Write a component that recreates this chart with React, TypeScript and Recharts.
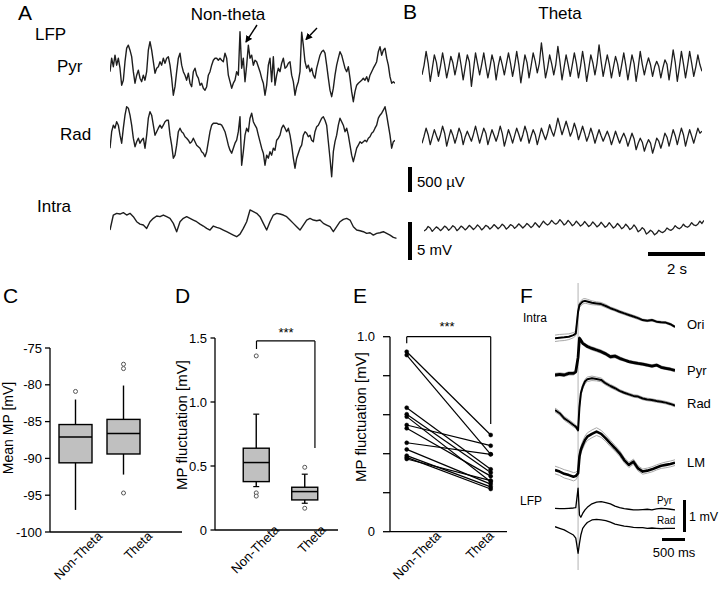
import React from 'react';
import { LineChart, Line, XAxis, YAxis, ComposedChart, Bar, ReferenceLine } from 'recharts';

const FONT = '"Liberation Sans", Arial, Helvetica, sans-serif';

// ---------- A: non-theta (LFP in µV, intracellular in mV, uniform sampling) ----------
const pyrNonTheta = [
  0, 270, 100, 330, 130, 270, 70, -270, -170, 200,
  470, 530, 430, 300, 0, -230, -70, 30, -130, -200,
  -70, -170, 0, 430, 600, 430, 200, -30, 70, 100,
  200, 130, 270, 170, 270, 300, 130, -130, -470, -300,
  0, 270, 370, 130, 0, -70, -170, -30, -230, -300,
  0, 70, -70, -130, -270, -230, -330, -370, -300, -70,
  0, 130, 230, 270, 270, 230, 270, 230, 200, 370,
  270, -70, -200, -330, -230, -170, 0, -70, 800, 70,
  270, -200, 130, 530, 270, 330, 130,
  230, 200, 100, 0, -130, -230, -470, -270, 130, 270,
  -200, 300, -270, -70, 70, 0, 170, 270, 70, 100,
  170, 200, -70, -200, -470, -300, -200, 0, 790, 530,
  200, 70, 130, 0, 70, -70, -130, 70, 200, 330,
  400, 430, 370, 130, -130, -370, -500, -330, -70, 130,
  270, 400, 330, 200, 70, 0, 100, -130, -400, -600,
  -400, -270, -230, -200, -170, -130, -170, -100, -200, -70,
  0, 70, 130, 200, 400, 500, 330, 430, 470, 270,
  130, -100, -230, -200, -230,
];

const radNonTheta = [
  -330, 0, 130, 70, 200, 130, -70, -230, 70, 330,
  500, 470, 330, 130, -130, -300, -200, -130, -230, -170,
  -130, -330, -70, 270, 400, 330, 130, -70, 0, 70,
  130, 70, 130, 200, 230, 230, -70, -270, -530, -470,
  -270, 0, 70, 0, -30, -100, -130, -170, -230, -200,
  -130, -200, -270, -300, -330, -400, -430, -500, -400, -200,
  0, 130, 170, 170, 170, 150, 150, 130, 70, 0,
  -130, -270, -370, -430, -330, -230, -170, 0, 300, -670,
  -400, -70, 70, 0, 270, 370, 200,
  130, 70, -70, -200, -330, -430, -670, -470, -530, -400,
  -470, -330, -370, -170, -130, -70, 70, 130, 70, 0,
  70, -70, -270, -530, -730, -530, -430, -330, -270, -70,
  0, -30, -100, -70, -170, -200, 0, 100, 130, 200,
  270, 300, 230, 130, -200, -530, -900, -400, -200, -70,
  130, 270, 200, 130, 0, 70, -70, -270, -470, -600,
  -470, -330, -270, -200, -230, -200, -170, -200, -130, -100,
  -30, 0, 70, 130, 270, 330, 370, 430, 500, 330,
  130, -70, -330, -200, -170,
];

const intraNonTheta = [
  -1.1, 0.88, 1.1, 1.01, 1.19, 0.88, 1.1, 0.66, 0, -0.31,
  -0.44, -0.88, 0, 0.44, 0.75, 0.66, 0.88, 0.66, 0.44, -0.22,
  -1.32, 0, 0.44, 0.66, 0.44, 0.22, 0, -0.31, -0.57, -0.88,
  -1.1, -0.57, -0.75, -0.88, -1.1, -1.32, -1.54, -1.76, -1.98, -1.63,
  -0.88, 0, 1.54, 1.32, 1.1, 0.66, -0.22, -1.1, 0, 0.88,
  1.1, 1.01, 0.88, 0.66, 0.22, -0.22, -0.66, -1.1, -0.44, 0.22,
  0.44, 0.22, 0.13, 0.22, -0.22, -0.44, -0.66, -1.32, -0.66, 0,
  0.31, 0.44, 0.22, -0.66, -1.1, -1.19, -1.32, -1.54, -1.45, -1.76,
  -1.54, -1.45, -1.32, -1.54, -1.76, -2.07, -2.2,
];

// ---------- B: theta ----------
const pyrTheta = [
  -170, 20, 300, 60, -300, -40, 230, 80, -200, 10, 270, 40, -230, -30, 200, 70,
  -170, 30, 270, 20, -270, -10, 230, 90, -400, -60, 270, 50, -170, 40, 270, 10,
  -230, -20, 230, 70, -270, 0, 200, 30, -170, 50, 270, 60, -200, 20, 300, 40,
  -330, -50, 230, 80, -230, 10, 270, 100, -130, 60, 470, 120, -230, -30, 230, 50,
  -170, 40, 400, 90, -270, -20, 230, 30, -200, 30, 270, 60, -230, 0, 300, 40,
  -300, -40, 230, 70, -170, 60, 430, 100, -200, 20, 230, 40, -230, -10, 200, 50,
  -200, 30, 270, 20, -270, -20, 230, 60, -300, -30, 300, 40, -170, 20, 170, 30,
  -200, -10, 100, 0, -230, -30, 130, 40, -270, 10, 330, 80, -300, -20, 300, 50,
  -230, 20, 300, 60, -200, -10, 230, 30, -100,
];

const radTheta = [
  -170, -30, 130, 0, -200, -50, 100, -20, -130, 0, 170, 30, -230, -60, 100, -10,
  -170, -30, 130, 20, -200, -40, 70, -30, -130, 10, 170, 0, -170, -20, 130, 30,
  -200, -50, 100, -10, -130, 0, 170, 20, -230, -70, 100, -20, -170, -20, 130, 10,
  -130, 0, 170, 40, -170, -30, 100, 0, -200, -40, 130, 10, -100, 30, 200, 70,
  -30, 130, 330, 170, 0, 130, 270, 130, -30, 70, 230, 100, -100, 30, 170, 30,
  -130, -20, 130, 0, -170, -30, 100, -20, -130, -30, 70, -40, -200, -70, 70, -50,
  -170, -60, 30, -70, -230, -100, 30, -80, -300, -170, -70, -150, -330, -200, -100, -170,
  -370, -230, -70, -130, -270, -130, 30, -50, -230, -70, 100, -20, -200, -30, 130, 0,
  -230, -60, 100, -30, -170, -20, 130, 30, 70,
];

const intraTheta = [
  -0.4, -0.2, 0.2, 0, -0.45, -0.15, 0.15, -0.05, -0.35, -0.1, 0.25, 0.05, -0.3, -0.05, 0.3, 0.1,
  -0.35, -0.1, 0.25, 0.05, -0.25, 0, 0.35, 0.1, -0.2, 0.05, 0.4, 0.15, -0.25, 0, 0.35, 0.2,
  -0.15, 0.1, 0.45, 0.2, -0.1, 0.15, 0.5, 0.25, -0.15, 0.1, 0.45, 0.3, -0.05, 0.2, 0.55, 0.3,
  0, 0.25, 0.6, 0.35, 0.05, 0.3, 0.7, 0.4, 0.1, 0.5, 0.9, 0.6, 0.4, 0.6, 1.0, 0.7,
  0.5, 0.7, 1.1, 0.8, 0.4, 0.6, 1.0, 0.7, 0.3, 0.5, 0.9, 0.6, 0.25, 0.45, 0.85, 0.55,
  0.2, 0.4, 0.8, 0.5, 0.15, 0.35, 0.75, 0.45, 0.1, 0.3, 0.7, 0.35, 0, 0.2, 0.6, 0.3,
  -0.1, 0.1, 0.5, 0.2, -0.2, 0, 0.4, 0.05, -0.5, -0.3, 0.05, -0.2, -0.8, -0.6, -0.3, -0.5,
  -0.9, -0.7, -0.3, -0.5, -0.6, -0.4, 0, -0.2, -0.3, -0.1, 0.3, 0.05, -0.1, 0.1, 0.5, 0.2,
  0.1, 0.3, 0.7, 0.4, 0.3, 0.5, 0.9, 0.6, 1.0,
];

// ---------- C/D: box plot statistics ----------
const groups = ['Non-Theta', 'Theta'];

const mpQ1 = [-90.6, -89.4];
const mpMedian = [-87.1, -86.6];
const mpQ3 = [-85.4, -84.7];
const mpLow = [-97.0, -92.2];
const mpHigh = [-82.0, -80.1];
const mpOutliers = [[-80.9], [-77.2, -77.8, -94.7]];
const mpTicks = [-100, -95, -90, -85, -80, -75];

const flQ1 = [0.378, 0.235];
const flMedian = [0.527, 0.3];
const flQ3 = [0.639, 0.334];
const flLow = [0.339, 0.209];
const flHigh = [0.905, 0.436];
const flOutliers = [[1.36, 0.29, 0.265], [0.49, 0.17]];
const flTicks = [0, 0.5, 1.0, 1.5];

// ---------- E: paired values per cell ----------
const pairNonTheta = [0.923, 0.906, 0.636, 0.602, 0.59, 0.547, 0.53, 0.456, 0.422, 0.39, 0.381, 0.373];
const pairTheta = [0.496, 0.397, 0.32, 0.303, 0.256, 0.441, 0.285, 0.397, 0.244, 0.23, 0.219, 0.262];
const pairTicks = [0, 0.2, 0.4, 0.6, 0.8, 1.0];

// ---------- F: averages around the event (mV) ----------
const fTimes = [-0.5, -0.4, -0.3, -0.2, -0.1, -0.05, 0, 0.03, 0.06, 0.1, 0.15, 0.2, 0.3, 0.4, 0.5, 0.6, 0.7, 0.8, 0.9, 1.0, 1.1, 1.2, 1.3, 1.4, 1.5, 1.6, 1.7, 1.8, 1.9, 2.0, 2.1];
const oriAvg = [0, 0.02, 0.03, 0.05, 0.1, 0.15, 0.83, 1.04, 1.09, 1.15, 1.17, 1.15, 1.11, 1.09, 1.07, 1.01, 0.94, 0.89, 0.83, 0.78, 0.73, 0.68, 0.63, 0.57, 0.55, 0.57, 0.52, 0.5, 0.49, 0.44, 0.36];
const oriSem = [0.1, 0.1, 0.1, 0.09, 0.08, 0.07, 0.05, 0.07, 0.08, 0.08, 0.07, 0.07, 0.06, 0.05, 0.05, 0.05, 0.04, 0.04, 0.04, 0.04, 0.04, 0.04, 0.04, 0.03, 0.03, 0.03, 0.03, 0.03, 0.03, 0.03, 0.03];
const pyrAvg = [0, 0.02, 0, 0.05, 0.05, 0.1, 0.55, 1.15, 1.09, 0.99, 0.94, 0.89, 0.83, 0.78, 0.73, 0.66, 0.57, 0.59, 0.52, 0.47, 0.42, 0.39, 0.36, 0.34, 0.31, 0.28, 0.31, 0.24, 0.21, 0.18, 0.14];
const pyrSem = [0.05, 0.05, 0.05, 0.05, 0.05, 0.05, 0.05, 0.05, 0.05, 0.05, 0.05, 0.05, 0.05, 0.05, 0.05, 0.05, 0.05, 0.05, 0.05, 0.04, 0.04, 0.04, 0.04, 0.04, 0.04, 0.04, 0.04, 0.04, 0.04, 0.04, 0.04];
const radAvg = [0, -0.1, -0.26, -0.36, -0.47, -0.52, -0.63, 0.1, 0.52, 0.73, 0.89, 0.96, 0.99, 0.97, 0.94, 0.83, 0.75, 0.68, 0.6, 0.54, 0.49, 0.44, 0.42, 0.36, 0.33, 0.31, 0.28, 0.26, 0.23, 0.19, 0.14];
const radSem = [0.06, 0.06, 0.06, 0.06, 0.06, 0.05, 0.05, 0.06, 0.07, 0.07, 0.07, 0.07, 0.07, 0.06, 0.06, 0.05, 0.05, 0.05, 0.04, 0.04, 0.04, 0.04, 0.04, 0.04, 0.04, 0.04, 0.04, 0.04, 0.04, 0.04, 0.04];
const lmAvg = [0, -0.05, -0.12, -0.16, -0.21, -0.19, -0.1, 0.42, 0.63, 0.78, 0.94, 1.04, 1.13, 1.2, 1.13, 0.99, 0.83, 0.68, 0.52, 0.31, 0.16, 0.26, 0.05, -0.05, -0.02, 0.02, 0.08, 0.13, 0.16, 0.19, 0.23];
const lmSem = [0.12, 0.12, 0.13, 0.13, 0.13, 0.12, 0.1, 0.1, 0.11, 0.12, 0.12, 0.12, 0.12, 0.12, 0.11, 0.1, 0.1, 0.09, 0.09, 0.08, 0.08, 0.08, 0.08, 0.08, 0.08, 0.08, 0.08, 0.08, 0.09, 0.09, 0.09];
const lfpPyrAvg = [0, -0.01, -0.01, 0, 0.01, 0.02, 0.63, -0.21, -0.28, -0.16, -0.05, 0.03, 0.14, 0.19, 0.21, 0.18, 0.14, 0.07, 0.02, -0.01, -0.03, -0.05, -0.05, -0.04, -0.03, -0.05, -0.02, 0, -0.01, -0.03, -0.05];
const lfpRadAvg = [0, -0.05, -0.1, -0.18, -0.26, -0.36, -0.83, -0.52, -0.26, -0.05, 0.05, 0.13, 0.21, 0.23, 0.21, 0.19, 0.14, 0.08, 0.05, 0.02, 0, -0.02, -0.03, -0.03, -0.05, -0.04, -0.05, -0.06, -0.05, -0.05, -0.05];

type Pt = { x: number; y: number };
type Series = { data: Pt[]; stroke: string; width: number };
type Trace = { baseline: number; pxPerUnit: number; series: Series[] };

const indexed = (vals: number[]): Pt[] => vals.map((y, x) => ({ x, y }));
const timed = (vals: number[], sem?: number[], sign = 0): Pt[] =>
  vals.map((y, i) => ({ x: fTimes[i], y: sem ? y + sign * sem[i] : y }));

const INK = '#1e1e1e';
const GREY = '#a8a8a8';

function withSem(avg: number[], sem: number[], w: number): Series[] {
  return [
    { data: timed(avg, sem, 1), stroke: GREY, width: 1 },
    { data: timed(avg, sem, -1), stroke: GREY, width: 1 },
    { data: timed(avg), stroke: '#000', width: w },
  ];
}

function TraceChart({ left, top, width, height, xDomain, traces, refX }: {
  left: number; top: number; width: number; height: number;
  xDomain: [number, number]; traces: Trace[]; refX?: number;
}) {
  return (
    <div style={{ position: 'absolute', left, top }}>
      <LineChart width={width} height={height} margin={{ top: 0, right: 0, bottom: 0, left: 0 }}>
        <XAxis type="number" dataKey="x" domain={xDomain} hide allowDataOverflow />
        {traces.map((t, i) => (
          <YAxis
            key={`ax${i}`}
            yAxisId={`t${i}`}
            type="number"
            hide
            allowDataOverflow
            domain={[(t.baseline - top - height) / t.pxPerUnit, (t.baseline - top) / t.pxPerUnit]}
          />
        ))}
        {refX !== undefined && (
          <ReferenceLine x={refX} yAxisId="t0" stroke="#a0a0a0" strokeWidth={0.8} ifOverflow="visible" />
        )}
        {traces.flatMap((t, i) =>
          t.series.map((s, j) => (
            <Line
              key={`l${i}-${j}`}
              yAxisId={`t${i}`}
              data={s.data}
              dataKey="y"
              type="linear"
              dot={false}
              activeDot={false}
              stroke={s.stroke}
              strokeWidth={s.width}
              strokeLinejoin="round"
              isAnimationActive={false}
            />
          ))
        )}
      </LineChart>
    </div>
  );
}

function SlantTick(props: any) {
  const { x, y, index, labels, dx, dy } = props;
  const ax = x + dx[index];
  const ay = y + dy;
  return (
    <text x={ax} y={ay} transform={`rotate(-45 ${ax} ${ay})`} textAnchor="end" fontSize={13} fill="#000" fontFamily={FONT}>
      {labels[index]}
    </text>
  );
}

function BoxShape(props: any) {
  const { x, y, width, height, payload } = props;
  const top = height >= 0 ? y : y + height;
  const h = Math.abs(height);
  const span = payload.q3 - payload.q1;
  const k = span ? h / span : 0;
  const py = (v: number) => top + (payload.q3 - v) * k;
  const cx = x + width / 2;
  const cap = payload.cap;
  return (
    <g>
      <line x1={cx} x2={cx} y1={py(payload.hi)} y2={top} stroke="#000" strokeWidth={1.4} />
      <line x1={cx} x2={cx} y1={top + h} y2={py(payload.lo)} stroke="#000" strokeWidth={1.4} />
      {cap > 0 && (
        <>
          <line x1={cx - cap} x2={cx + cap} y1={py(payload.hi)} y2={py(payload.hi)} stroke="#000" strokeWidth={1.2} />
          <line x1={cx - cap} x2={cx + cap} y1={py(payload.lo)} y2={py(payload.lo)} stroke="#000" strokeWidth={1.2} />
        </>
      )}
      <rect x={x} y={top} width={width} height={h} fill="#c0c0c0" stroke="#000" strokeWidth={1.4} />
      <line x1={x} x2={x + width} y1={py(payload.med)} y2={py(payload.med)} stroke="#000" strokeWidth={1.5} />
      {payload.out.map((v: number, i: number) => (
        <circle key={i} cx={cx} cy={py(v)} r={2} fill="#fff" stroke="#555" strokeWidth={1} />
      ))}
    </g>
  );
}

const BOX_POS = [1, 3];

function boxRows(q1: number[], med: number[], q3: number[], lo: number[], hi: number[], out: number[][], cap: number) {
  return groups.map((g, i) => ({
    name: g, x: BOX_POS[i], range: [q1[i], q3[i]],
    q1: q1[i], med: med[i], q3: q3[i], lo: lo[i], hi: hi[i], out: out[i], cap,
  }));
}

const axisStyle = { stroke: '#000', strokeWidth: 1.3 };

function T({ x, y, size, children, center }: { x: number; y: number; size: number; children: React.ReactNode; center?: boolean }) {
  return (
    <div style={{
      position: 'absolute', left: x, top: y, fontSize: size, lineHeight: 1, whiteSpace: 'nowrap', color: '#000',
      transform: center ? 'translateX(-50%)' : undefined,
    }}>{children}</div>
  );
}

function VT({ x, y, size, children }: { x: number; y: number; size: number; children: React.ReactNode }) {
  return (
    <div style={{
      position: 'absolute', left: x, top: y, fontSize: size, lineHeight: 1, whiteSpace: 'nowrap', color: '#000',
      transform: 'translate(-50%, -50%) rotate(-90deg)',
    }}>{children}</div>
  );
}

export default function App() {
  const mpRows = boxRows(mpQ1, mpMedian, mpQ3, mpLow, mpHigh, mpOutliers, 0);
  const flRows = boxRows(flQ1, flMedian, flQ3, flLow, flHigh, flOutliers, 3);

  return (
    <div style={{ position: 'absolute', left: 0, top: 0, width: 720, height: 594, background: '#fff', overflow: 'hidden', fontFamily: FONT }}>
      {/* A: non-theta */}
      <TraceChart
        left={110} top={20} width={285} height={180} xDomain={[0, pyrNonTheta.length - 1]}
        traces={[
          { baseline: 71.7, pxPerUnit: 0.05, series: [{ data: indexed(pyrNonTheta), stroke: INK, width: 1.4 }] },
          { baseline: 131.7, pxPerUnit: 0.05, series: [{ data: indexed(radNonTheta), stroke: INK, width: 1.4 }] },
        ]}
      />
      <TraceChart
        left={110} top={195} width={286.7} height={55} xDomain={[0, intraNonTheta.length - 1]}
        traces={[{ baseline: 221.7, pxPerUnit: 7.6, series: [{ data: indexed(intraNonTheta), stroke: INK, width: 1.4 }] }]}
      />
      {/* B: theta */}
      <TraceChart
        left={421.7} top={20} width={280} height={160} xDomain={[0, pyrTheta.length - 1]}
        traces={[
          { baseline: 66.3, pxPerUnit: 0.05, series: [{ data: indexed(pyrTheta), stroke: INK, width: 1.3 }] },
          { baseline: 134.7, pxPerUnit: 0.05, series: [{ data: indexed(radTheta), stroke: INK, width: 1.3 }] },
        ]}
      />
      <TraceChart
        left={423.5} top={200} width={280} height={45} xDomain={[0, intraTheta.length - 1]}
        traces={[{ baseline: 228, pxPerUnit: 7.6, series: [{ data: indexed(intraTheta), stroke: INK, width: 1.3 }] }]}
      />

      {/* C: mean MP */}
      <div style={{ position: 'absolute', left: 0, top: 330 }}>
        <ComposedChart width={200} height={264} data={mpRows} margin={{ top: 18, right: 18, bottom: 0, left: 0 }}>
          <XAxis
            type="number" dataKey="x" domain={[-0.0417, 5.458]} ticks={BOX_POS} interval={0} allowDataOverflow
            height={62} tickSize={0} tickMargin={0} tickLine={false} axisLine={axisStyle}
            tick={(p: any) => <SlantTick {...p} labels={groups} dx={[28, 30]} dy={5} />}
          />
          <YAxis
            type="number" domain={[-100, -75]} ticks={mpTicks} interval={0} allowDataOverflow width={50}
            tickSize={5} tickMargin={3} axisLine={axisStyle} tickLine={axisStyle}
            tick={{ fill: '#000', fontSize: 13 }}
          />
          <Bar dataKey="range" barSize={33} isAnimationActive={false} shape={(p: any) => <BoxShape {...p} />} />
        </ComposedChart>
      </div>

      {/* D: MP fluctuation box plot */}
      <div style={{ position: 'absolute', left: 170, top: 320 }}>
        <ComposedChart width={180} height={274} data={flRows} margin={{ top: 18, right: 12, bottom: 0, left: 0 }}>
          <XAxis
            type="number" dataKey="x" domain={[-0.711, 4.361]} ticks={BOX_POS} interval={0} allowDataOverflow
            height={64} tickSize={0} tickMargin={0} tickLine={false} axisLine={axisStyle}
            tick={(p: any) => <SlantTick {...p} labels={groups} dx={[23.5, 21.7]} dy={0.7} />}
          />
          <YAxis
            type="number" domain={[0, 1.5]} ticks={flTicks} interval={0} allowDataOverflow width={45}
            tickSize={4.5} tickMargin={3.5} axisLine={axisStyle} tickLine={axisStyle}
            tick={{ fill: '#000', fontSize: 13 }}
            tickFormatter={(v: number) => (v === 0 ? '0' : v.toFixed(1))}
          />
          <Bar dataKey="range" barSize={26} isAnimationActive={false} shape={(p: any) => <BoxShape {...p} />} />
          <ReferenceLine segment={[{ x: 1, y: 1.477 }, { x: 3.41, y: 1.477 }]} stroke="#000" strokeWidth={1.2} ifOverflow="visible" />
          <ReferenceLine segment={[{ x: 1, y: 1.477 }, { x: 1, y: 1.414 }]} stroke="#000" strokeWidth={1.2} ifOverflow="visible" />
          <ReferenceLine segment={[{ x: 3.41, y: 1.477 }, { x: 3.41, y: 0.64 }]} stroke="#000" strokeWidth={1.2} ifOverflow="visible" />
        </ComposedChart>
      </div>

      {/* E: paired cells */}
      <div style={{ position: 'absolute', left: 345, top: 320 }}>
        <LineChart width={175} height={274} margin={{ top: 16.7, right: 13, bottom: 0, left: 0 }}>
          <XAxis
            type="number" dataKey="x" domain={[0.801, 2.194]} ticks={[1, 2]} interval={0} allowDataOverflow
            height={62.3} tickSize={0} tickMargin={0} tickLine={false} axisLine={axisStyle}
            tick={(p: any) => <SlantTick {...p} labels={groups} dx={[35, 4]} dy={5} />}
          />
          <YAxis
            type="number" domain={[0, 1]} ticks={pairTicks} interval={0} allowDataOverflow width={45}
            tickSize={7} tickMargin={8} axisLine={axisStyle} tickLine={axisStyle}
            tick={{ fill: '#000', fontSize: 13 }}
            tickFormatter={(v: number) => (v === 0 ? '0' : v === 1 ? '1.0' : '')}
          />
          <ReferenceLine segment={[{ x: 1, y: 1 }, { x: 2, y: 1 }]} stroke="#000" strokeWidth={1.2} ifOverflow="visible" />
          <ReferenceLine segment={[{ x: 1, y: 1 }, { x: 1, y: 0.966 }]} stroke="#000" strokeWidth={1.2} ifOverflow="visible" />
          <ReferenceLine segment={[{ x: 2, y: 1 }, { x: 2, y: 0.552 }]} stroke="#000" strokeWidth={1.2} ifOverflow="visible" />
          {pairNonTheta.map((v, i) => (
            <Line
              key={i}
              data={[{ x: 1, y: v }, { x: 2, y: pairTheta[i] }]}
              dataKey="y" type="linear" stroke="#000" strokeWidth={1.2}
              dot={{ r: 2, fill: '#000', stroke: '#000', strokeWidth: 0.5 }} activeDot={false}
              isAnimationActive={false}
            />
          ))}
        </LineChart>
      </div>

      {/* F: event-triggered averages */}
      <TraceChart
        left={555} top={283} width={120} height={287} xDomain={[-0.5, 2.1]} refX={0}
        traces={[
          { baseline: 338.3, pxPerUnit: 32, series: withSem(oriAvg, oriSem, 2) },
          { baseline: 375, pxPerUnit: 32, series: withSem(pyrAvg, pyrSem, 2.8) },
          { baseline: 410, pxPerUnit: 32, series: withSem(radAvg, radSem, 2) },
          { baseline: 470, pxPerUnit: 32, series: withSem(lmAvg, lmSem, 2.6) },
          { baseline: 508.3, pxPerUnit: 32, series: [{ data: timed(lfpPyrAvg), stroke: '#000', width: 1.3 }] },
          { baseline: 526.7, pxPerUnit: 32, series: [{ data: timed(lfpRadAvg), stroke: '#000', width: 1.3 }] },
        ]}
      />

      {/* arrows and scale bars */}
      <svg width={720} height={594} style={{ position: 'absolute', left: 0, top: 0, pointerEvents: 'none' }}>
        <defs>
          <marker id="ah" markerWidth="7" markerHeight="7" refX="6" refY="3.5" orient="auto" markerUnits="userSpaceOnUse">
            <path d="M0,0 L7,3.5 L0,7 z" fill="#000" />
          </marker>
        </defs>
        <line x1={257} y1={25} x2={246} y2={42} stroke="#000" strokeWidth={1.4} markerEnd="url(#ah)" />
        <line x1={317} y1={28} x2={306} y2={39.5} stroke="#000" strokeWidth={1.4} markerEnd="url(#ah)" />
        <rect x={408} y={167} width={4} height={25} fill="#000" />
        <rect x={408} y={222} width={4} height={38} fill="#000" />
        <rect x={648} y={252} width={57} height={4} fill="#000" />
        <rect x={683} y={500} width={3} height={32} fill="#000" />
        <rect x={662} y={538} width={23} height={3} fill="#000" />
      </svg>

      {/* text */}
      <T x={18} y={2} size={21}>A</T>
      <T x={228} y={6} size={17} center>Non-theta</T>
      <T x={35} y={26} size={17}>LFP</T>
      <T x={57} y={58} size={17}>Pyr</T>
      <T x={60} y={126} size={17}>Rad</T>
      <T x={37} y={198} size={17}>Intra</T>
      <T x={403} y={1} size={21}>B</T>
      <T x={560} y={4.5} size={17} center>Theta</T>
      <T x={417} y={174} size={15}>500 µV</T>
      <T x={417} y={242} size={15}>5 mV</T>
      <T x={677} y={260.5} size={15} center>2 s</T>

      <T x={3} y={284.5} size={21}>C</T>
      <T x={175} y={284.5} size={21}>D</T>
      <T x={353} y={285} size={21}>E</T>
      <T x={520} y={284.5} size={21}>F</T>
      <VT x={8} y={428} size={14}>Mean MP [mV]</VT>
      <VT x={181} y={425} size={15}>MP fluctuation [mV]</VT>
      <VT x={360} y={417} size={15}>MP fluctuation [mV]</VT>
      <T x={286} y={326} size={13} center>***</T>
      <T x={447} y={320} size={13} center>***</T>

      <T x={523} y={311.5} size={12}>Intra</T>
      <T x={687} y={318} size={13}>Ori</T>
      <T x={687} y={364} size={13}>Pyr</T>
      <T x={687} y={397} size={13}>Rad</T>
      <T x={687} y={455.5} size={13}>LM</T>
      <T x={520} y={494.5} size={12}>LFP</T>
      <T x={657} y={496} size={10}>Pyr</T>
      <T x={657} y={516} size={10}>Rad</T>
      <T x={689} y={511} size={12.5}>1 mV</T>
      <T x={674} y={546} size={13} center>500 ms</T>
    </div>
  );
}
